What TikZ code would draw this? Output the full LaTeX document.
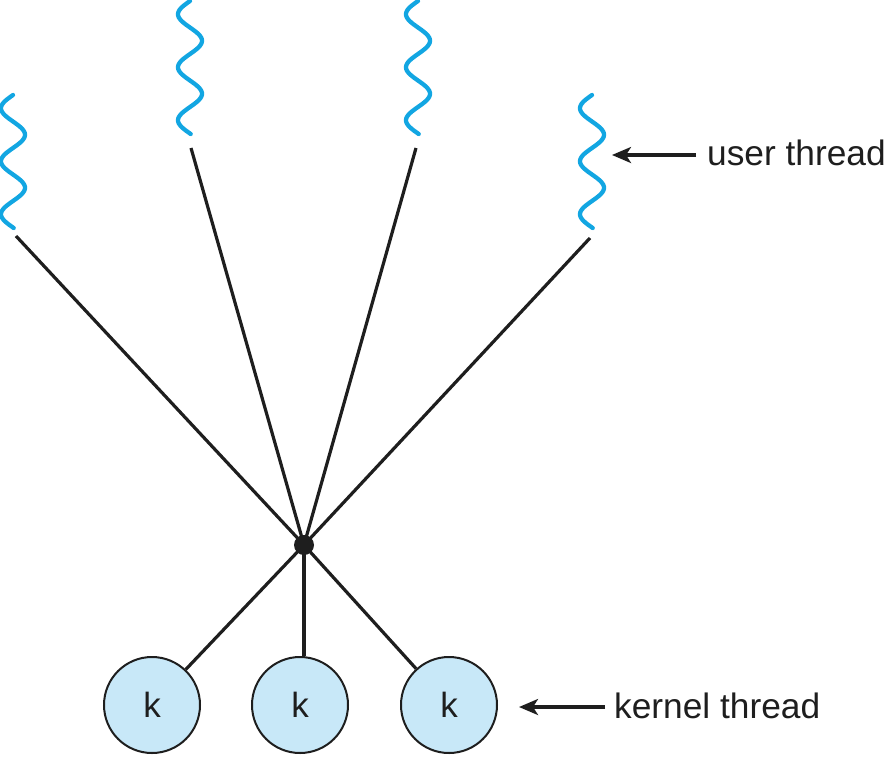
\documentclass[tikz,border=0pt]{standalone}
\usepackage{fontspec}
\setmainfont{Liberation Sans}
\usetikzlibrary{arrows.meta}
\definecolor{wavecol}{RGB}{18,166,226}
\definecolor{kfill}{RGB}{200,232,248}
\definecolor{ink}{RGB}{30,30,30}
\begin{document}
\begin{tikzpicture}[x=1pt,y=-1pt,
  wave/.style={draw=wavecol,line width=4.3pt,line cap=round},
  conn/.style={draw=ink,line width=3.2pt},
  kthread/.style={circle,draw=ink,line width=2pt,fill=kfill,minimum size=96pt,inner sep=0pt,font=\fontsize{35}{40}\selectfont,text=ink},
  hubdot/.style={circle,fill=ink,minimum size=20pt,inner sep=0pt},
  lbl/.style={anchor=base west,inner sep=0pt,font=\fontsize{35.3}{40}\selectfont,text=ink},
  pointer/.style={draw=ink,line width=3.2pt,-{Stealth[length=19pt,width=16pt,inset=5pt]}}]
\useasboundingbox (0,0) rectangle (884,756);
% user threads (wavy)
\foreach \cx/\ys in {13/95, 190/1, 418/1, 592/95}{
  \draw[wave] plot[domain=0:133,samples=120,smooth] ({\cx-12*sin(\x/53*360)},{\ys+\x});
}
\coordinate (u1) at (16,236);
\coordinate (u2) at (191,148);
\coordinate (u3) at (416,148);
\coordinate (u4) at (590,238);
\node[hubdot] (hub) at (304,545) {};
\node[kthread] (k1) at (152,705) {k};
\node[kthread] (k2) at (300,705) {k};
\node[kthread] (k3) at (449,705) {k};
\foreach \u in {u1,u2,u3,u4}{ \draw[conn] (\u) -- (hub.center); }
\draw[conn] (hub.center) -- (k1);
\draw[conn] (hub.center) -- (hub.center |- k2.north);
\draw[conn] (hub.center) -- (k3);
% labels
\coordinate (a1s) at (696,155);
\coordinate (a1e) at (612,155);
\draw[pointer] (a1s) -- (a1e);
\node[lbl] (ut) at (707,165) {user thread};
\coordinate (a2s) at (605,707);
\coordinate (a2e) at (519,707);
\draw[pointer] (a2s) -- (a2e);
\node[lbl] (kt) at (614,718) {kernel thread};
\end{tikzpicture}
\end{document}
